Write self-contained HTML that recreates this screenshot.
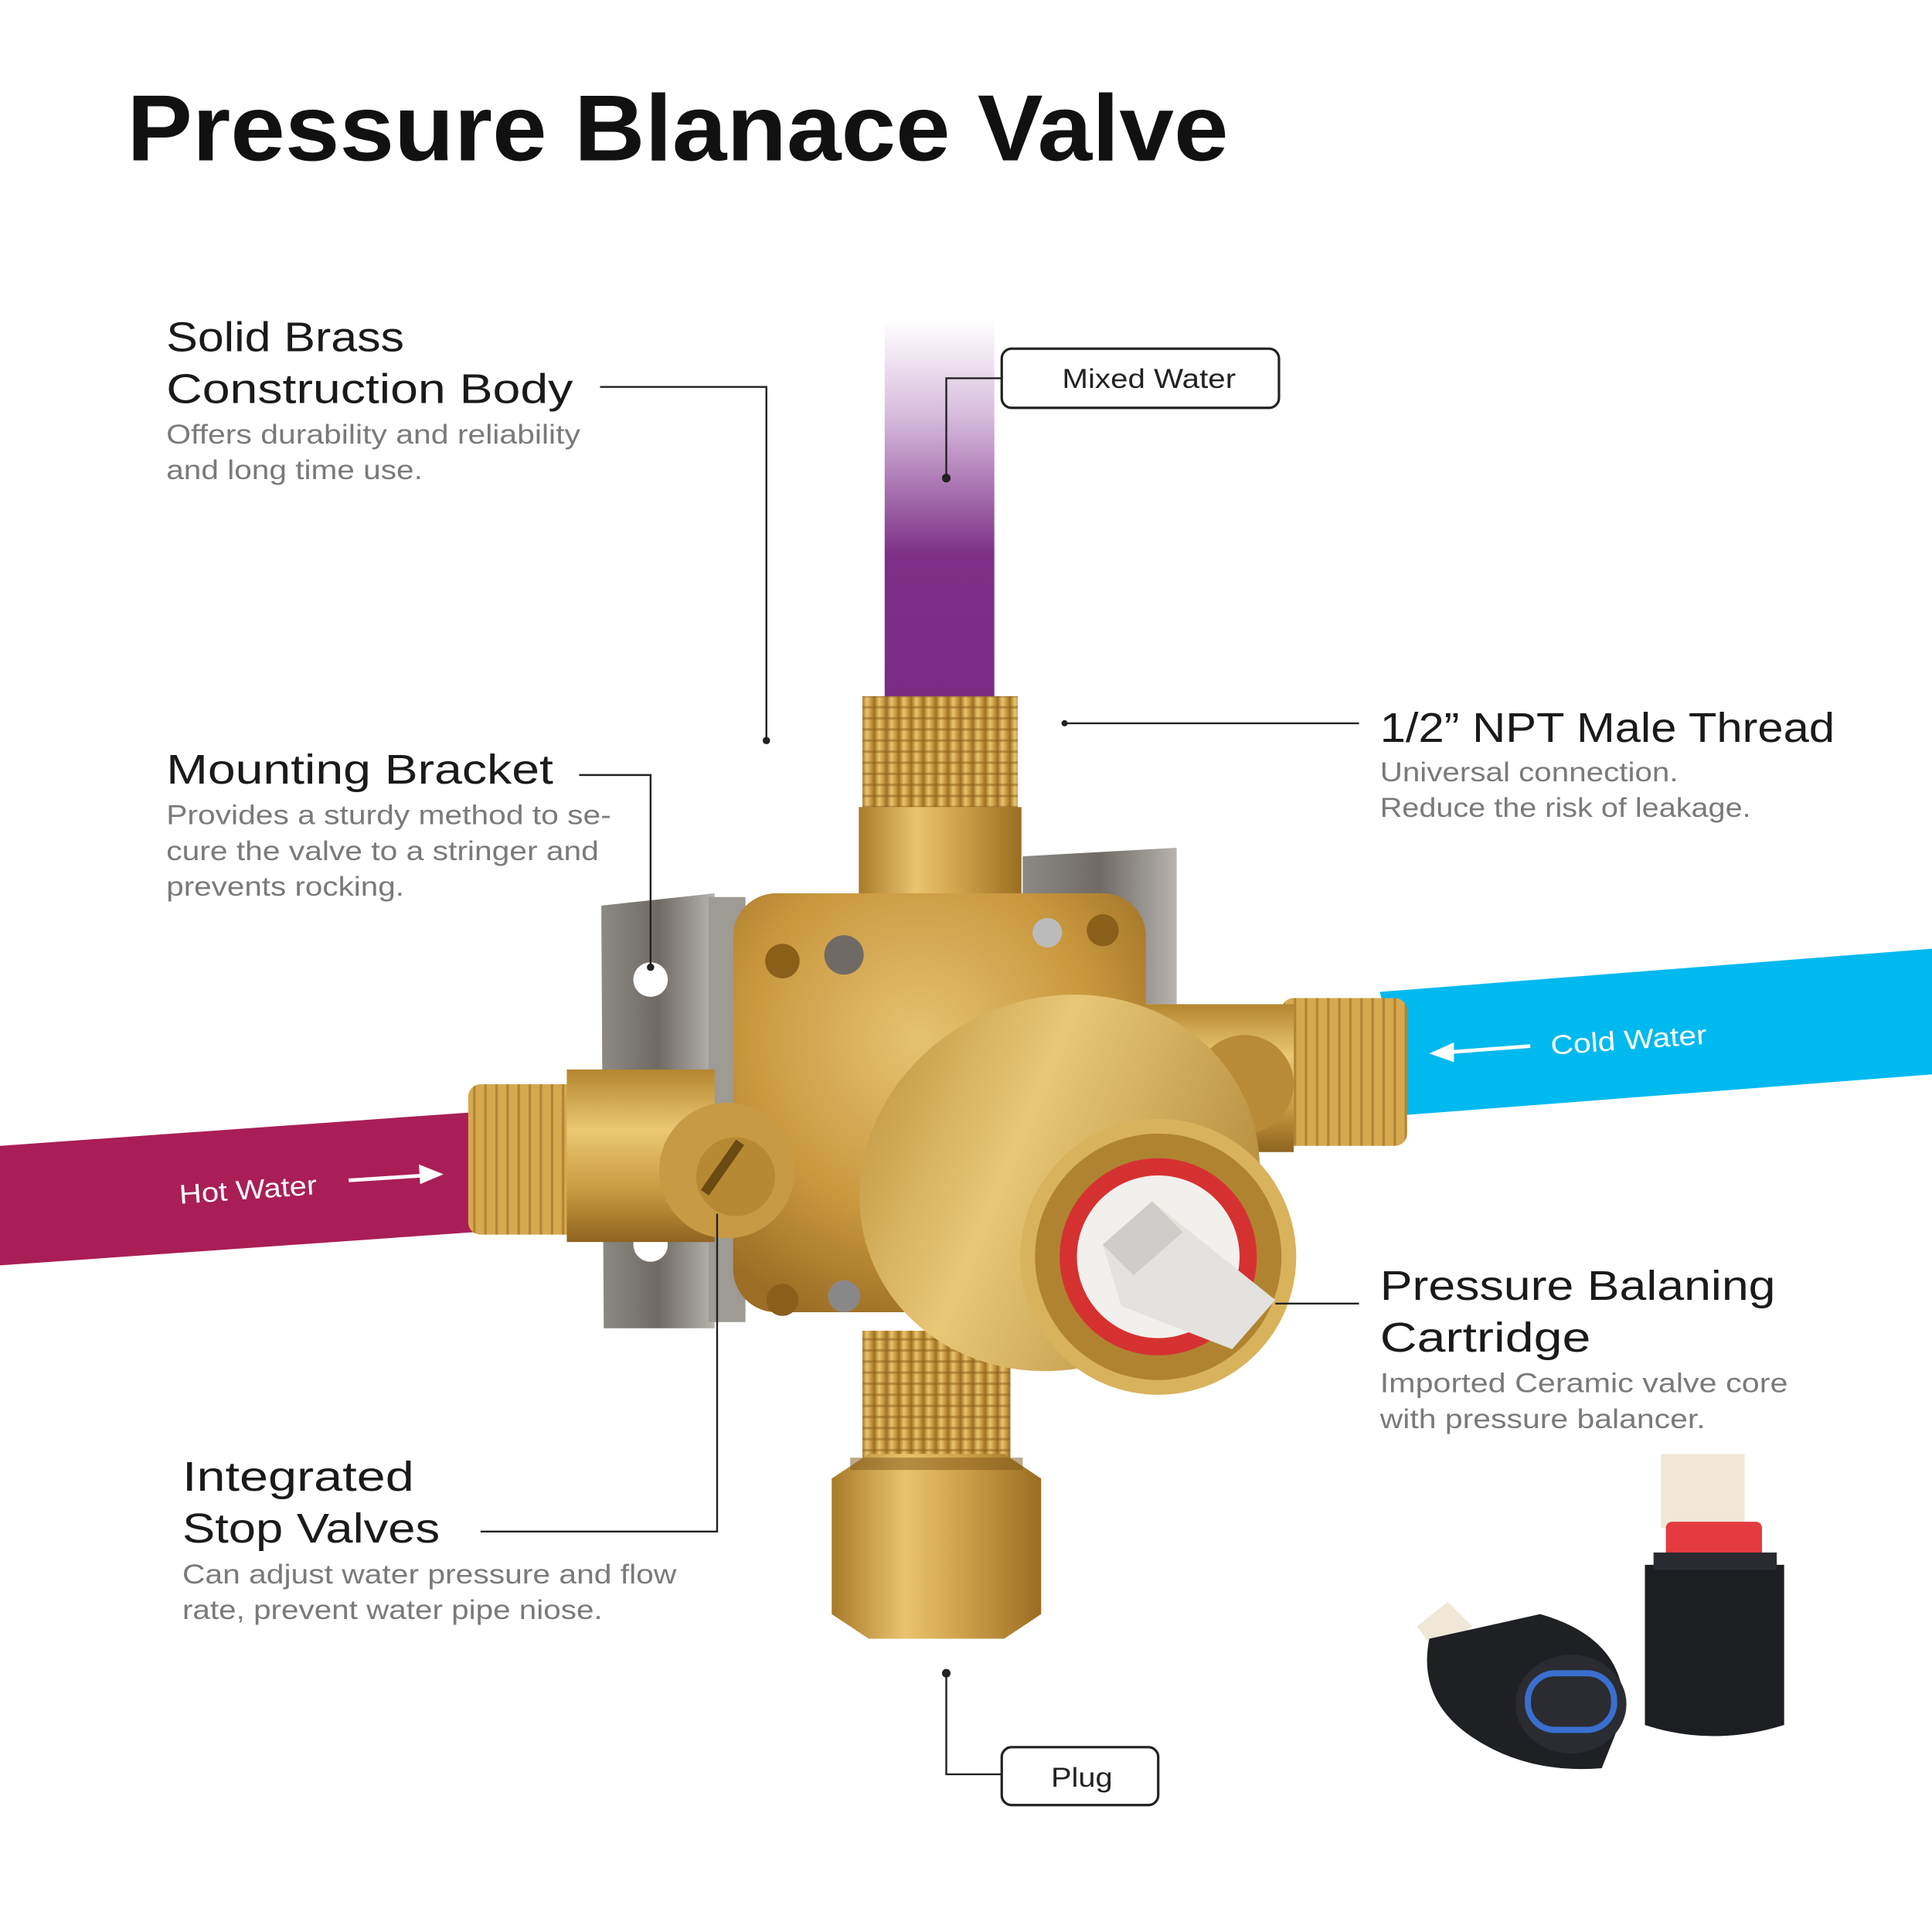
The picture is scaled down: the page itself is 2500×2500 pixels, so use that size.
<!DOCTYPE html>
<html><head><meta charset="utf-8"><style>
html,body{margin:0;padding:0;background:#fff;}
svg{display:block;}
text{font-family:"Liberation Sans",sans-serif;}
</style></head><body>
<svg width="2500" height="2500" viewBox="0 0 1568 1568" xmlns="http://www.w3.org/2000/svg">
<defs>
<linearGradient id="pur" x1="0" y1="0" x2="0" y2="1">
<stop offset="0" stop-color="#ffffff"/><stop offset="0.25" stop-color="#d6b9dc"/><stop offset="0.6" stop-color="#7d3087"/><stop offset="1" stop-color="#7a2c84"/></linearGradient>
<linearGradient id="brassV" x1="0" y1="0" x2="1" y2="0">
<stop offset="0" stop-color="#a87a2a"/><stop offset="0.35" stop-color="#e9c46e"/><stop offset="0.6" stop-color="#d2a44c"/><stop offset="1" stop-color="#9a6d22"/></linearGradient>
<linearGradient id="brassH" x1="0" y1="0" x2="0" y2="1">
<stop offset="0" stop-color="#b4862f"/><stop offset="0.35" stop-color="#ebc873"/><stop offset="0.7" stop-color="#c99a40"/><stop offset="1" stop-color="#8e6420"/></linearGradient>
<radialGradient id="body" cx="0.45" cy="0.35" r="0.7">
<stop offset="0" stop-color="#e6c272"/><stop offset="0.6" stop-color="#c9983e"/><stop offset="1" stop-color="#9c6e25"/></radialGradient>
<linearGradient id="cyl" x1="0" y1="0" x2="1" y2="1">
<stop offset="0" stop-color="#b98c36"/><stop offset="0.4" stop-color="#e8c777"/><stop offset="1" stop-color="#a67a2c"/></linearGradient>
<linearGradient id="steel" x1="0" y1="0" x2="1" y2="0">
<stop offset="0" stop-color="#8d8a86"/><stop offset="0.5" stop-color="#6f6a64"/><stop offset="1" stop-color="#b7b4b0"/></linearGradient>
<pattern id="thrV" width="10" height="9" patternUnits="userSpaceOnUse"><rect width="10" height="9" fill="url(#brassV)"/><rect y="6" width="10" height="2" fill="#8a5f1a" opacity="0.5"/></pattern>
<pattern id="thrH" width="9" height="10" patternUnits="userSpaceOnUse"><rect width="9" height="10" fill="#d6a94f"/><rect x="6" width="2" height="10" fill="#8a5f1a" opacity="0.5"/></pattern>
</defs>
<rect width="1568" height="1568" fill="#fff"/>
<text x="103" y="130" font-size="76" font-weight="bold" fill="#111" textLength="894" lengthAdjust="spacingAndGlyphs">Pressure Blanace Valve</text>

<rect x="718" y="260" width="89" height="318" fill="url(#pur)"/>
<polygon points="1120,805 1568,770 1568,872 1140,905" fill="#00b9ee"/>
<polygon points="0,930 380,903 385,1000 0,1027" fill="#a91e56"/>

<polygon points="488,735 580,725 580,1078 490,1078" fill="url(#steel)"/>
<rect x="575" y="728" width="30" height="345" fill="#9e9a94"/>
<polygon points="830,695 955,688 955,815 830,815" fill="url(#steel)"/>
<circle cx="528" cy="795" r="14" fill="#fff"/>
<circle cx="528" cy="1010" r="14" fill="#fff"/>

<rect x="380" y="880" width="100" height="122" rx="10" fill="url(#thrH)"/>
<rect x="1040" y="810" width="102" height="120" rx="10" fill="url(#thrH)"/>
<rect x="460" y="868" width="120" height="140" fill="url(#brassH)"/>
<rect x="930" y="815" width="120" height="120" fill="url(#brassH)"/>

<rect x="700" y="565" width="126" height="100" fill="url(#thrV)"/>
<rect x="697" y="655" width="132" height="90" fill="url(#brassV)"/>
<rect x="700" y="1080" width="120" height="110" fill="url(#thrV)"/>
<polygon points="675,1200 705,1180 815,1180 845,1200 845,1310 815,1330 705,1330 675,1310" fill="url(#brassV)"/>
<rect x="690" y="1183" width="140" height="10" fill="#7d5518" opacity="0.5"/>

<rect x="595" y="725" width="335" height="340" rx="35" fill="url(#body)"/>
<circle cx="635" cy="780" r="14" fill="#8a5f1a"/><circle cx="685" cy="775" r="16" fill="#6f6a64"/>
<circle cx="850" cy="757" r="12" fill="#bbb"/><circle cx="895" cy="755" r="13" fill="#8a5f1a"/>
<circle cx="635" cy="1055" r="13" fill="#8a5f1a"/><circle cx="685" cy="1052" r="13" fill="#888"/>
<circle cx="590" cy="950" r="55" fill="#c79a44"/>
<circle cx="597" cy="955" r="32" fill="#b68932"/>
<rect x="580" y="930" width="8" height="50" fill="#6b4a14" transform="rotate(35 597 955)"/>
<circle cx="1010" cy="880" r="40" fill="#b98b36"/>
<ellipse cx="860" cy="960" rx="165" ry="150" fill="url(#cyl)" transform="rotate(-25 860 960)"/>
<circle cx="940" cy="1020" r="112" fill="#d9b25c"/>
<circle cx="940" cy="1020" r="100" fill="#b08331"/>
<circle cx="940" cy="1020" r="80" fill="#d63131"/>
<circle cx="940" cy="1020" r="66" fill="#f2f0ec"/>
<polygon points="895,1010 935,975 1035,1055 1000,1095 910,1060" fill="#e4e2de"/>
<polygon points="895,1010 935,975 960,1000 920,1035" fill="#cfcdc9"/>

<rect x="1348" y="1180" width="68" height="60" fill="#efe8d8"/>
<rect x="1352" y="1235" width="78" height="30" rx="5" fill="#e33b40"/>
<path d="M1335,1270 L1448,1270 L1448,1400 Q1390,1418 1335,1400 Z" fill="#1d1e22"/>
<rect x="1342" y="1260" width="100" height="14" fill="#2a2b30"/>
<polygon points="1150,1320 1175,1300 1195,1320 1165,1340" fill="#efe8d8"/>
<path d="M1160,1330 L1250,1310 Q1320,1330 1318,1390 L1300,1435 Q1240,1440 1195,1410 Q1150,1380 1160,1330 Z" fill="#1f2024"/>
<ellipse cx="1275" cy="1383" rx="45" ry="40" fill="#2b2c31"/>
<rect x="1240" y="1358" width="70" height="46" rx="22" fill="none" stroke="#3a6fd0" stroke-width="5"/>

<g stroke="#222" stroke-width="1.5" fill="none">
<polyline points="487,314 622,314 622,601"/>
<polyline points="470,629 528,629 528,785"/>
<polyline points="813,307 768,307 768,388"/>
<polyline points="864,587 1103,587"/>
<polyline points="1035,1058 1103,1058"/>
<polyline points="390,1243 582,1243 582,985"/>
<polyline points="768,1358 768,1440 813,1440"/>
</g>
<g fill="#222"><circle cx="622" cy="601" r="3"/><circle cx="528" cy="785" r="3"/><circle cx="768" cy="388" r="3.5"/><circle cx="864" cy="587" r="2.5"/><circle cx="768" cy="1358" r="3.5"/></g>

<rect x="813" y="283" width="225" height="48" rx="8" fill="#fff" stroke="#222" stroke-width="2"/>
<text x="862" y="315" font-size="22" fill="#222" textLength="141" lengthAdjust="spacingAndGlyphs">Mixed Water</text>
<rect x="813" y="1418" width="127" height="47" rx="8" fill="#fff" stroke="#222" stroke-width="2"/>
<text x="853" y="1450" font-size="22" fill="#222" textLength="50" lengthAdjust="spacingAndGlyphs">Plug</text>

<g fill="#1a1a1a" font-size="34">
<text x="135" y="285" textLength="193" lengthAdjust="spacingAndGlyphs">Solid Brass</text>
<text x="135" y="327" textLength="330" lengthAdjust="spacingAndGlyphs">Construction Body</text>
<text x="135" y="636" textLength="314" lengthAdjust="spacingAndGlyphs">Mounting Bracket</text>
<text x="1120" y="602" textLength="369" lengthAdjust="spacingAndGlyphs">1/2” NPT Male Thread</text>
<text x="1120" y="1055" textLength="321" lengthAdjust="spacingAndGlyphs">Pressure Balaning</text>
<text x="1120" y="1097" textLength="171" lengthAdjust="spacingAndGlyphs">Cartridge</text>
<text x="148" y="1210" textLength="188" lengthAdjust="spacingAndGlyphs">Integrated</text>
<text x="148" y="1252" textLength="209" lengthAdjust="spacingAndGlyphs">Stop Valves</text>
</g>
<g fill="#7a7a7a" font-size="22">
<text x="135" y="360" textLength="336" lengthAdjust="spacingAndGlyphs">Offers durability and reliability</text>
<text x="135" y="389" textLength="208" lengthAdjust="spacingAndGlyphs">and long time use.</text>
<text x="135" y="669" textLength="361" lengthAdjust="spacingAndGlyphs">Provides a sturdy method to se-</text>
<text x="135" y="698" textLength="351" lengthAdjust="spacingAndGlyphs">cure the valve to a stringer and</text>
<text x="135" y="727" textLength="193" lengthAdjust="spacingAndGlyphs">prevents rocking.</text>
<text x="1120" y="634" textLength="242" lengthAdjust="spacingAndGlyphs">Universal connection.</text>
<text x="1120" y="663" textLength="301" lengthAdjust="spacingAndGlyphs">Reduce the risk of leakage.</text>
<text x="1120" y="1130" textLength="331" lengthAdjust="spacingAndGlyphs">Imported Ceramic valve core</text>
<text x="1120" y="1159" textLength="264" lengthAdjust="spacingAndGlyphs">with pressure balancer.</text>
<text x="148" y="1285" textLength="401" lengthAdjust="spacingAndGlyphs">Can adjust water pressure and flow</text>
<text x="148" y="1314" textLength="341" lengthAdjust="spacingAndGlyphs">rate, prevent water pipe niose.</text>
</g>

<text x="1259" y="856" font-size="22" fill="#fff" transform="rotate(-4 1259 856)" textLength="127" lengthAdjust="spacingAndGlyphs">Cold Water</text>
<g stroke="#fff" stroke-width="3"><line x1="1242" y1="849" x2="1175" y2="854"/></g>
<polygon points="1160,855 1180,846 1180,862" fill="#fff"/>
<text x="146" y="977" font-size="22" fill="#fff" transform="rotate(-4 146 977)" textLength="112" lengthAdjust="spacingAndGlyphs">Hot Water</text>
<g stroke="#fff" stroke-width="3"><line x1="283" y1="958" x2="345" y2="954"/></g>
<polygon points="360,953 340,945 341,961" fill="#fff"/>
</svg>
</body></html>
